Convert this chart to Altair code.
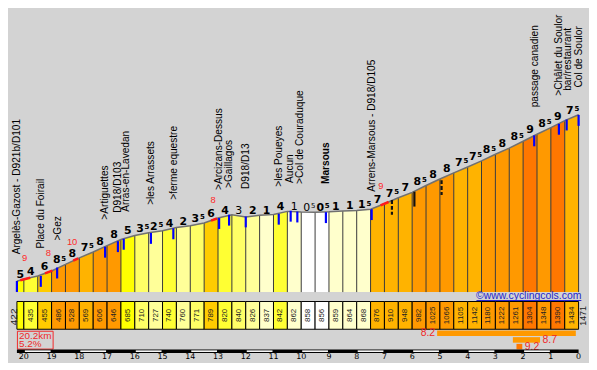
import altair as alt
import pandas as pd

# ---------------- data ----------------
km_points = [20.25, 20, 19.5, 19, 18.5, 18, 17.5, 17, 16.5, 16, 15.5, 15, 14.5, 14, 13.5, 13,
             12.5, 12, 11.5, 11, 10.5, 10, 9.5, 9, 8.5, 8, 7.5, 7, 6.5, 6, 5.5, 5, 4.5, 4,
             3.5, 3, 2.5, 2, 1.5, 1, 0.5, 0]
elevations = [422, 435, 455, 486, 528, 569, 606, 646, 685, 710, 727, 740, 760, 771, 789, 820,
              840, 826, 837, 842, 862, 858, 856, 859, 864, 868, 876, 910, 948, 982, 1025, 1066,
              1105, 1142, 1180, 1222, 1261, 1304, 1348, 1390, 1434, 1471]
gradients = [5, 4, 6, 8.5, 8, 7.5, 8, 8, 5, 3.5, 2.5, 4, 2, 3.5, 6, 4, 3, 2, 1, 4, 1, 0.5, 0.5,
             1, 1, 1.5, 7, 7.5, 7, 8.5, 8, 8, 7.5, 7.5, 8.5, 8, 8.5, 9, 8.5, 9, 7.5]

place_names = ["Argelès-Gazost - D921b/D101", "Place du Foirail", ">Gez", ">Artiguettes",
               "D918/D103", "Arras-en-Lavedan", ">les Arrassets", ">ferme equestre",
               ">Arcizans-Dessus", ">Gaillagos", "D918/D13", ">les Poueyes", "Aucun",
               ">Col de Couraduque", "Marsous", "Arrens-Marsous - D918/D105",
               "passage canadien", ">Châlet du Soulor", "bar/restaurant", "Col de Soulor"]
place_km = [20.25, 19.39, 18.78, 17.06, 16.61, 16.32, 15.42, 14.60, 12.95, 12.59, 12.00,
            10.80, 10.39, 10.06, 9.11, 7.44, 1.58, 0.71, 0.39, 0.0]
place_elev = [591, 628, 678, 810, 853, 860, 903, 935, 997, 1010, 1003, 1018, 1041, 1035,
              1035, 986, 1518, 1591, 1622, 1643]
place_bold = [False] * 14 + [True] + [False] * 5

tick_km = [20.25, 19.39, 18.80, 17.07, 16.61, 16.40, 15.42, 14.61, 12.96, 12.60, 12.00,
           10.81, 10.38, 10.14, 9.11, 7.46, 6.73, 5.92, 4.94, 1.60, 0.71, 0.43, 0.0]
tick_elev = [423, 455, 508, 639, 674, 689, 726, 755, 820, 841, 830, 847, 866, 861, 857, 876,
             934, 986, 1059, 1341, 1414, 1441, 1470]
tick_kind = ["blue"] * 16 + ["dash", "solid", "dash"] + ["blue"] * 4

red_km_start = [20.13, 19.24, 18.22, 13.25, 7.14]
red_km_end = [19.77, 18.97, 18.04, 13.04, 6.85]
red_elev_start = [428, 471, 551, 804, 900]
red_elev_end = [444, 488, 566, 817, 921]
red_labels = ["9", "8", "10", "8", "9"]
red_label_km = [19.97, 19.12, 18.26, 13.18, 7.13]
red_label_elev = [549, 580, 653, 912, 1001]

maxg_values = [8.2, 8.7, 9.2]
maxg_km_start = [5.1, 2.37, 2.24]
maxg_km_end = [0.1, 1.39, 2.03]

total_distance = 20.2
avg_grade = 5.2
km_ticks = [20, 19, 18, 17, 16, 15, 14, 13, 12, 11, 10, 9, 8, 7, 6, 5, 4, 3, 2, 1, 0]
site = "©www.cyclingcols.com"


def grad_color(g):
    if g < 1:
        return "#FFFFFF"
    if g < 2:
        return "#FFFFCC"
    if g < 3:
        return "#FFFF99"
    if g < 4:
        return "#FFFF66"
    if g < 5:
        return "#FFFF33"
    if g < 6:
        return "#FFFF00"
    if g < 7:
        return "#FFCC00"
    if g < 8:
        return "#FFB300"
    if g < 9:
        return "#FF9900"
    return "#FF7700"


# ---------------- tables ----------------
area_rows, grad_rows, cell_rows = [], [], []
for i, g in enumerate(gradients):
    c = grad_color(g)
    k0, k1 = km_points[i], km_points[i + 1]
    e0, e1 = elevations[i], elevations[i + 1]
    area_rows.append(dict(seg=i, km=k0, elev=e0, color=c))
    area_rows.append(dict(seg=i, km=k1, elev=e1, color=c))
    grad_rows.append(dict(km=(k0 + k1) / 2, elev=max(e0, e1), main=str(int(g)),
                          sup="5" if g % 1 else "", desc=bool(e1 < e0)))
    cell_rows.append(dict(k0=k0, k1=k1, km=(k0 + k1) / 2, color=c,
                          label=str(e0) if i > 0 else ""))
df_area = pd.DataFrame(area_rows)
df_grad = pd.DataFrame(grad_rows)
df_cells = pd.DataFrame(cell_rows)
df_prof = pd.DataFrame(dict(km=km_points, elev=elevations))
df_places = pd.DataFrame(dict(name=place_names, km=place_km, elev=place_elev, bold=place_bold))
df_ticks = pd.DataFrame(dict(km=tick_km, elev=tick_elev, kind=tick_kind))
red_rows = []
for j in range(len(red_labels)):
    red_rows.append(dict(seg=j, km=red_km_start[j], elev=red_elev_start[j]))
    red_rows.append(dict(seg=j, km=red_km_end[j], elev=red_elev_end[j]))
df_red = pd.DataFrame(red_rows)
df_redlab = pd.DataFrame(dict(km=red_label_km, elev=red_label_elev, label=red_labels))
df_ends = pd.DataFrame(dict(km=[km_points[0], km_points[-1]],
                            label=[str(elevations[0]), str(elevations[-1])],
                            side=["l", "r"]))
df_maxg = pd.DataFrame(dict(a=maxg_km_start, b=maxg_km_end, row=[0, 1, 2],
                            color=[grad_color(v) for v in maxg_values],
                            label=[f"{v:.1f}" for v in maxg_values]))
df_sum = pd.DataFrame(dict(l1=[f"{total_distance}km"], l2=[f"{avg_grade}%"], site=[site]))
df_kmbar = pd.DataFrame(dict(a=[km_points[0]], b=[km_points[-1]]))
df_white = pd.DataFrame(dict(a=km_ticks[0:-1:2], b=km_ticks[1::2]))
df_kmlab = pd.DataFrame(dict(km=km_ticks, label=[str(k) for k in km_ticks]))

# ---------------- scales ----------------
W = 581
HA, HB, HC = 285, 38, 31
xs = alt.Scale(domain=[-0.268, 20.5], reverse=True, nice=False, zero=False)
ys = alt.Scale(domain=[353.25, 2134.5], nice=False, zero=False)


def X(f="km"):
    return alt.X(f"{f}:Q", scale=xs, axis=None)


def X2(f):
    return alt.X2(f"{f}:Q")


def Y(f="elev"):
    return alt.Y(f"{f}:Q", scale=ys, axis=None, stack=None)


FONT = "Liberation Sans"
GFONT = "DejaVu Sans"

# ---------------- panel A: profile ----------------
area = alt.Chart(df_area).mark_area(interpolate="linear", opacity=1).encode(
    x=X(), y=Y(), y2=alt.value(HA), color=alt.Color("color:N", scale=None),
    detail="seg:N")
seps = alt.Chart(df_prof).mark_rule(color="#3a3a3a", strokeWidth=1).encode(
    x=X(), y=Y(), y2=alt.value(HA))
line = alt.Chart(df_prof).mark_line(color="#707070", strokeWidth=1.5).encode(x=X(), y=Y())
red = alt.Chart(df_red).mark_line(color="#FF1A1A", strokeWidth=2.5).encode(
    x=X(), y=Y(), detail="seg:N")
blue_ticks = alt.Chart(df_ticks).mark_rule(color="#0000FF", strokeWidth=2.2, y2Offset=11).encode(
    x=X(), y=Y(), y2=alt.Y2("elev:Q")).transform_filter(alt.datum.kind == "blue")
black_solid = alt.Chart(df_ticks).mark_rule(color="#111111", strokeWidth=2.2, y2Offset=15).encode(
    x=X(), y=Y(), y2=alt.Y2("elev:Q")).transform_filter(alt.datum.kind == "solid")
black_dash = alt.Chart(df_ticks).mark_rule(color="#111111", strokeWidth=2.2, y2Offset=15,
                                           strokeDash=[4, 2]).encode(
    x=X(), y=Y(), y2=alt.Y2("elev:Q")).transform_filter(alt.datum.kind == "dash")


def grad_layers(desc):
    w = "normal" if desc else "bold"
    base = alt.Chart(df_grad).transform_filter(
        alt.datum.desc if desc else ~alt.datum.desc)
    plain = base.mark_text(font=GFONT, fontSize=11, fontWeight=w, color="black",
                           baseline="alphabetic", align="center", yOffset=-1).encode(
        x=X(), y=Y(), text="main:N").transform_filter(alt.datum.sup == "")
    main = base.mark_text(font=GFONT, fontSize=11, fontWeight=w, color="black",
                          baseline="alphabetic", align="right", xOffset=2, yOffset=-1).encode(
        x=X(), y=Y(), text="main:N").transform_filter(alt.datum.sup != "")
    sup = base.mark_text(font=GFONT, fontSize=7, fontWeight=w, color="black",
                         baseline="alphabetic", align="left", xOffset=2.8, yOffset=-3.6).encode(
        x=X(), y=Y(), text="sup:N").transform_filter(alt.datum.sup != "")
    return [plain, main, sup]


redlab = alt.Chart(df_redlab).mark_text(font=FONT, fontSize=9.5, color="#FF2A2A",
                                        baseline="alphabetic", align="center").encode(
    x=X(), y=Y(), text="label:N")
places = alt.Chart(df_places).mark_text(font=FONT, fontSize=10.2, color="black", angle=270,
                                        align="left", baseline="middle").encode(
    x=X(), y=Y(), text="name:N").transform_filter(~alt.datum.bold)
places_b = alt.Chart(df_places).mark_text(font=FONT, fontSize=10.2, fontWeight="bold",
                                          color="black", angle=270, align="left",
                                          baseline="middle").encode(
    x=X(), y=Y(), text="name:N").transform_filter(alt.datum.bold)

panelA = alt.layer(area, seps, line, red, blue_ticks, black_solid, black_dash,
                   *grad_layers(False), *grad_layers(True), redlab, places, places_b
                   ).properties(width=W, height=HA)

# ---------------- panel B: elevation cells ----------------
cells = alt.Chart(df_cells).mark_rect(stroke="black", strokeWidth=1).encode(
    x=X("k0"), x2=X2("k1"), y=alt.value(9.5), y2=alt.value(37.5),
    fill=alt.Color("color:N", scale=None))
cell_lab = alt.Chart(df_cells).mark_text(font=FONT, fontSize=8, color="#222222", angle=270,
                                         align="center", baseline="middle").encode(
    x=X(), y=alt.value(23.5), text="label:N")
end_l = alt.Chart(df_ends).mark_text(font=FONT, fontSize=10, color="#222222", angle=270,
                                     align="center", baseline="middle", xOffset=-3).encode(
    x=X(), y=alt.value(25), text="label:N").transform_filter(alt.datum.side == "l")
end_r = alt.Chart(df_ends).mark_text(font=FONT, fontSize=9, color="#222222", angle=270,
                                     align="center", baseline="middle", xOffset=4.5).encode(
    x=X(), y=alt.value(24), text="label:N").transform_filter(alt.datum.side == "r")
site_txt = alt.Chart(df_sum).mark_text(font=FONT, fontSize=10.5, color="#2424CC",
                                       align="right", baseline="alphabetic").encode(
    x=alt.value(576.3), y=alt.value(7), text="site:N")
site_ul = alt.Chart(df_sum).mark_rule(color="#2424CC", strokeWidth=1).encode(
    x=alt.value(470.5), x2=alt.value(576.3), y=alt.value(8.5))
panelB = alt.layer(cells, cell_lab, end_l, end_r, site_txt, site_ul).properties(
    width=W, height=HB)

# ---------------- panel C: summary, max gradients, km scale ----------------
RED = "#F02828"
box = alt.Chart(df_sum).mark_rect(fill="transparent", stroke=RED, strokeWidth=1).encode(
    x=alt.value(7.5), x2=alt.value(43.5), y=alt.value(1.5), y2=alt.value(19.5))
l1 = alt.Chart(df_sum).mark_text(font=FONT, fontSize=10, color=RED, align="left",
                                 baseline="alphabetic").encode(
    x=alt.value(9), y=alt.value(9.3), text="l1:N")
l2 = alt.Chart(df_sum).mark_text(font=FONT, fontSize=10, color=RED, align="left",
                                 baseline="alphabetic").encode(
    x=alt.value(9), y=alt.value(17.8), text="l2:N")
rowY = alt.Y("row:Q", scale=alt.Scale(domain=[0, 2], range=[3.5, 17], nice=False, zero=False),
             axis=None)
mg = alt.Chart(df_maxg).mark_rule(strokeWidth=5.6, strokeCap="butt").encode(
    x=X("a"), x2=X2("b"), y=rowY, color=alt.Color("color:N", scale=None))
mg_l = alt.Chart(df_maxg).mark_text(font=FONT, fontSize=10.5, color=RED, align="right",
                                    baseline="middle", xOffset=-2).encode(
    x=X("a"), y=rowY, text="label:N").transform_filter(alt.datum.row == 0)
mg_r = alt.Chart(df_maxg).mark_text(font=FONT, fontSize=10.5, color=RED, align="left",
                                    baseline="middle", xOffset=2.5).encode(
    x=X("b"), y=rowY, text="label:N").transform_filter(alt.datum.row > 0)
kmbar = alt.Chart(df_kmbar).mark_rule(color="black", strokeWidth=3.6, strokeCap="butt").encode(
    x=X("a"), x2=X2("b"), y=alt.value(21.6))
kmwhite = alt.Chart(df_white).mark_rule(color="white", strokeWidth=1.6, strokeCap="butt",
                                        xOffset=1, x2Offset=-1).encode(
    x=X("a"), x2=X2("b"), y=alt.value(21.6))
kmlab = alt.Chart(df_kmlab).mark_text(font=GFONT, fontSize=8, color="black", align="center",
                                      baseline="middle").encode(
    x=X(), y=alt.value(27.6), text="label:N")
panelC = alt.layer(box, l1, l2, mg, mg_l, mg_r, kmbar, kmwhite, kmlab).properties(
    width=W, height=HC)

chart = alt.vconcat(panelA, panelB, panelC, spacing=0, bounds="flush").properties(
    padding=0, background="#D3D3D3"
).configure_view(stroke=None).configure_concat(spacing=0)

chart.save("out.html", embed_options={"renderer": "svg", "actions": False})
